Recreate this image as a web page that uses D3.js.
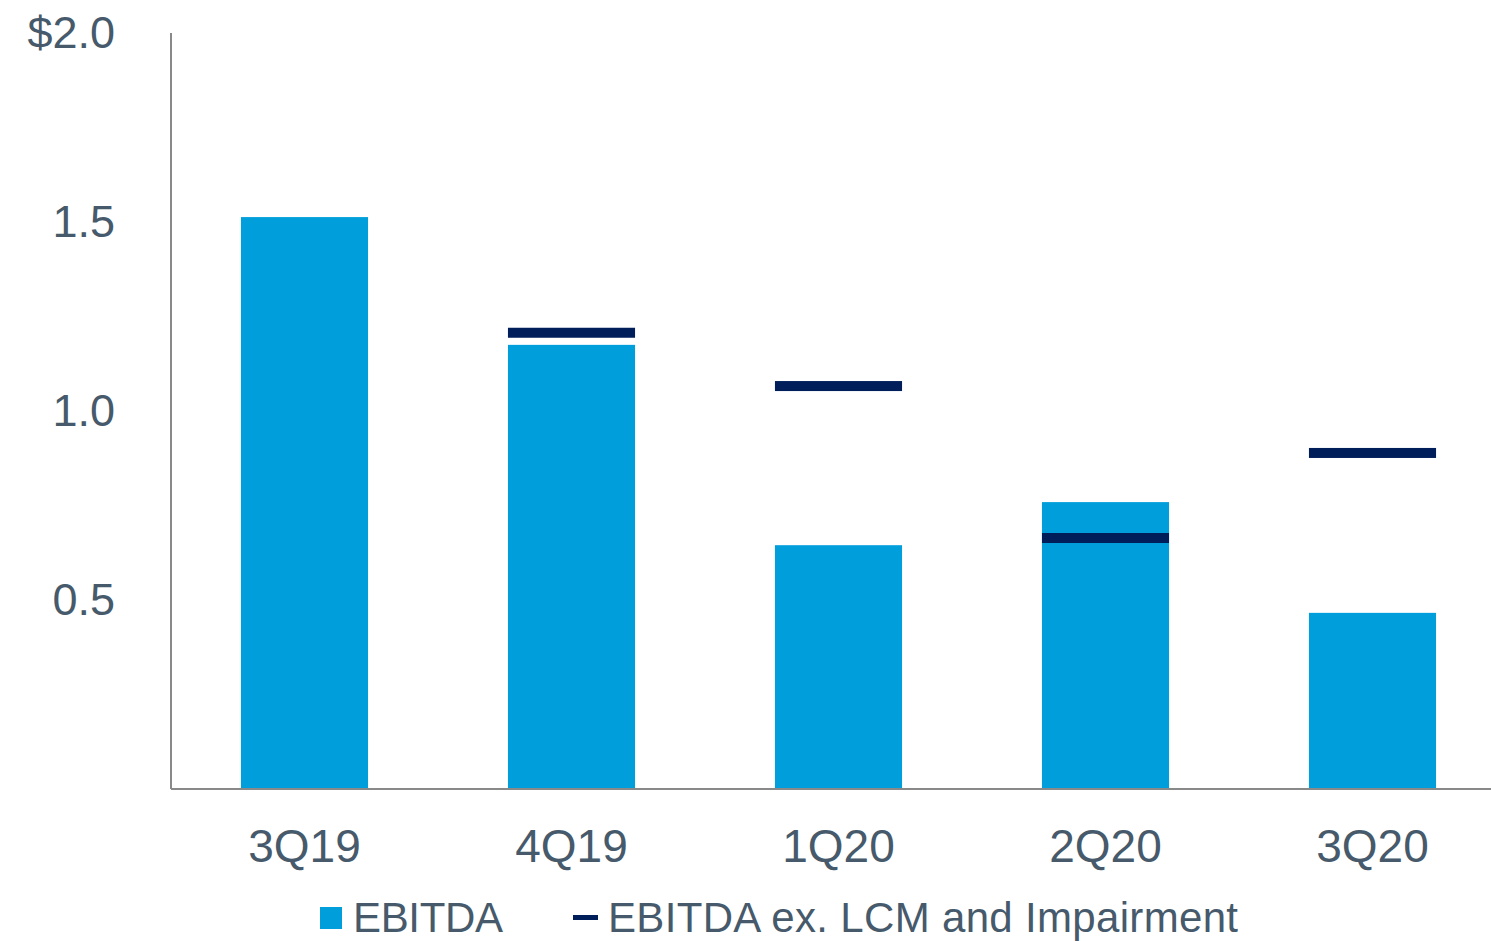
<!DOCTYPE html>
<html>
<head>
<meta charset="utf-8">
<script src="https://cdnjs.cloudflare.com/ajax/libs/d3/7.8.5/d3.min.js"></script>
<style>
  body { margin: 0; background: #fff; }
  svg text { font-family: "Liberation Sans", Arial, sans-serif; fill: #465A6B; }
</style>
</head>
<body>
<div id="chart"></div>
<script>
const quarters = ["3Q19", "4Q19", "1Q20", "2Q20", "3Q20"];
const ebitda = [1.513, 1.175, 0.645, 0.759, 0.466];
const ebitdaEx = [null, 1.207, 1.066, 0.664, 0.889];
const yTicks = [0.5, 1.0, 1.5, 2.0];
const legendLabels = ["EBITDA", "EBITDA ex. LCM and Impairment"];

const width = 1491;
const height = 941;
const textColor = "#465A6B";

const svg = d3.select("#chart")
  .append("svg")
  .attr("width", width)
  .attr("height", height);

// x band runs past the right edge, like the original slide
const xScale = d3.scaleBand()
  .domain(quarters)
  .range([171, 1506])
  .paddingInner(0.524)
  .paddingOuter(0.262);

const yScale = d3.scaleLinear()
  .domain([0, 2])
  .range([789, 33]);

// bars
svg.selectAll("rect.bar")
  .data(quarters.map((q, i) => ({ q: q, v: ebitda[i] })))
  .enter()
  .append("rect")
  .attr("class", "bar")
  .attr("x", d => xScale(d.q))
  .attr("y", d => yScale(d.v))
  .attr("width", xScale.bandwidth())
  .attr("height", d => yScale(0) - yScale(d.v))
  .attr("fill", "#009FDB");

// dash markers
svg.selectAll("rect.dash")
  .data(quarters.map((q, i) => ({ q: q, v: ebitdaEx[i] })).filter(d => d.v != null))
  .enter()
  .append("rect")
  .attr("class", "dash")
  .attr("x", d => xScale(d.q))
  .attr("y", d => yScale(d.v) - 5)
  .attr("width", xScale.bandwidth())
  .attr("height", 10)
  .attr("fill", "#001E5A");

// y axis
const yAxis = svg.append("g")
  .attr("transform", "translate(171,0)")
  .call(d3.axisLeft(yScale)
    .tickValues(yTicks)
    .tickSize(0)
    .tickPadding(56)
    .tickFormat(d => (d === 2 ? "$" : "") + d3.format(".1f")(d)));
yAxis.select(".domain").attr("stroke", "#898989").attr("stroke-width", 2)
  .attr("d", `M0,${yScale(2)}V${yScale(0)}`);
yAxis.selectAll("text").attr("font-size", 45).attr("fill", textColor);

// x axis
const xAxis = svg.append("g")
  .attr("transform", `translate(0,${yScale(0)})`)
  .call(d3.axisBottom(xScale).tickSize(0).tickPadding(40));
xAxis.select(".domain").attr("stroke", "#898989").attr("stroke-width", 2)
  .attr("d", "M171,0H1491");
xAxis.selectAll("text").attr("font-size", 46).attr("fill", textColor);

// legend
const legend = svg.append("g");
legend.append("rect")
  .attr("x", 320).attr("y", 907)
  .attr("width", 22).attr("height", 22)
  .attr("fill", "#009FDB");
legend.append("text")
  .attr("x", 353).attr("y", 932)
  .attr("font-size", 42)
  .attr("fill", textColor)
  .attr("textLength", 150)
  .text(legendLabels[0]);
legend.append("rect")
  .attr("x", 573).attr("y", 915)
  .attr("width", 25).attr("height", 5)
  .attr("fill", "#001E5A");
legend.append("text")
  .attr("x", 608).attr("y", 932)
  .attr("font-size", 42)
  .attr("fill", textColor)
  .attr("textLength", 630)
  .text(legendLabels[1]);
</script>
</body>
</html>
